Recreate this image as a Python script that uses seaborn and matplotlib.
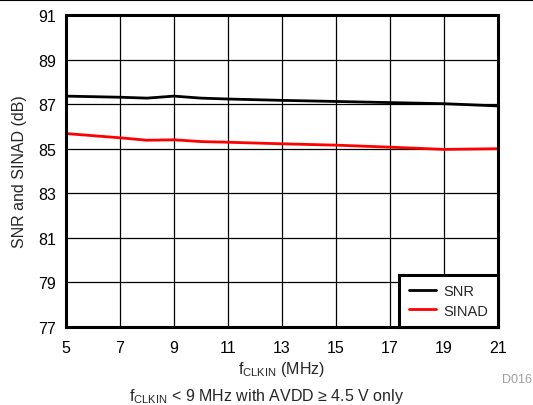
import pandas as pd
import matplotlib
matplotlib.use("Agg")
import matplotlib.pyplot as plt
import seaborn as sns

# values
f_clkin = [5, 7, 8, 9, 10, 11, 13, 15, 17, 19, 21]
snr = [87.36, 87.31, 87.27, 87.36, 87.27, 87.23, 87.17, 87.12, 87.07, 87.02, 86.92]
sinad = [85.68, 85.49, 85.38, 85.40, 85.32, 85.29, 85.22, 85.16, 85.07, 84.97, 85.00]

x_ticks = [5, 7, 9, 11, 13, 15, 17, 19, 21]
y_ticks = [77, 79, 81, 83, 85, 87, 89, 91]

df = pd.DataFrame({
    'f': f_clkin * 2,
    'val': snr + sinad,
    'series': ['SNR'] * len(f_clkin) + ['SINAD'] * len(f_clkin),
})

sns.set_style('white')
plt.rcParams['font.family'] = ['Liberation Sans', 'DejaVu Sans']

fig = plt.figure(figsize=(5.33, 4.06), dpi=100)
ax = fig.add_axes([0.1238, 0.1921, 0.8105, 0.7685])

sns.lineplot(data=df, x='f', y='val', hue='series',
             palette={'SNR': 'black', 'SINAD': '#ff0000'},
             linewidth=2, ax=ax, legend=False)

ax.set_xlim(5, 21)
ax.set_ylim(77, 91)
ax.set_xticks(x_ticks)
ax.set_yticks(y_ticks)
ax.tick_params(axis='both', labelsize=11.5, length=0, colors='black')
ax.tick_params(axis='x', pad=9)
ax.tick_params(axis='y', pad=7)
ax.grid(True, color='black', linewidth=0.9)
ax.set_axisbelow(True)
for sp in ax.spines.values():
    sp.set_linewidth(2.2)
    sp.set_color('black')

ax.set_xlabel('f$_{\\mathregular{CLKIN}}$ (MHz)', fontsize=11.5, va='top')
ax.xaxis.set_label_coords(0.5, -0.102)
ax.set_ylabel('SNR and SINAD (dB)', fontsize=11.5)
ax.yaxis.set_label_coords(-0.09, 0.5)

leg = ax.legend(handles=ax.get_lines(), labels=['SNR', 'SINAD'],
                loc='lower right', borderaxespad=0, fancybox=False,
                framealpha=1, edgecolor='black', fontsize=10.5,
                handlelength=1.9, labelspacing=0.35, borderpad=0.65,
                handletextpad=0.5)
leg.get_frame().set_linewidth(2.2)

fig.text(0.998, (406 - 383) / 406, 'D016', ha='right', va='baseline',
         fontsize=9, color='#a0a0a0')
fig.text(0.5, (406 - 401) / 406,
         'f$_{\\mathregular{CLKIN}}$ < 9 MHz with AVDD \u2265 4.5 V only',
         ha='center', va='baseline', fontsize=11.5)
fig.add_artist(plt.Line2D([0, 1], [0.998, 0.998], color='black', linewidth=1.5))

fig.savefig('out.png', dpi=100)
